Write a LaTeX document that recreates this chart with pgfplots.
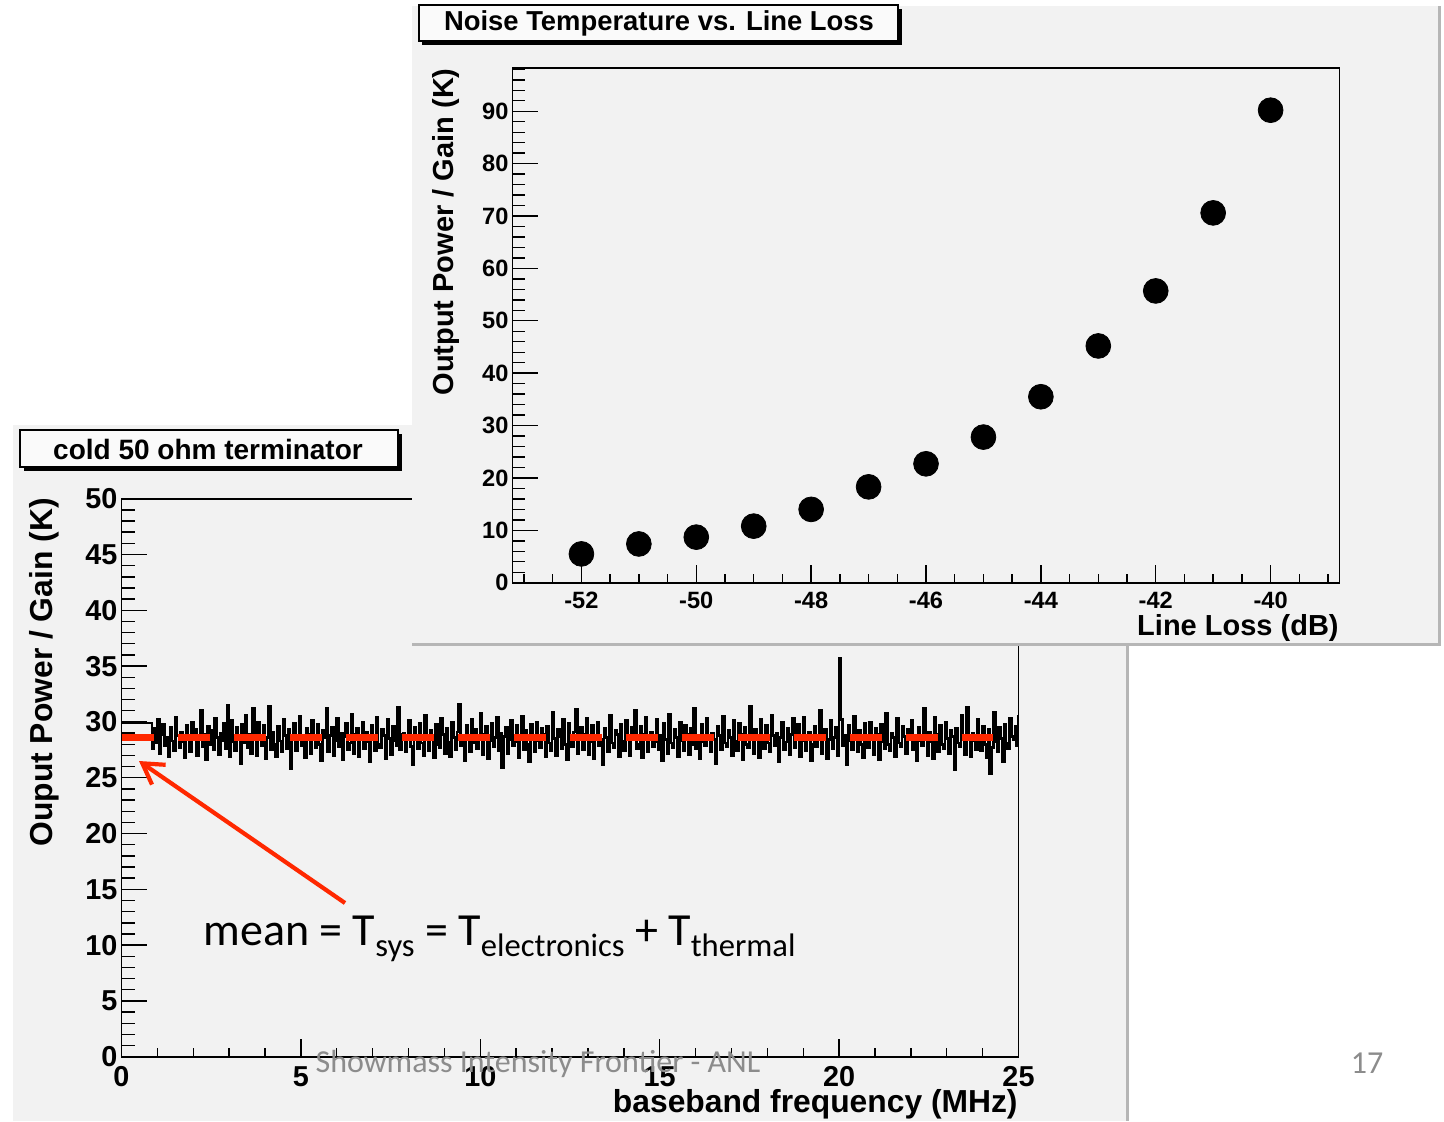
\documentclass[border=0pt]{standalone}
\usepackage{fontspec}
\setmainfont{Liberation Sans}
\newfontfamily\calibri{Carlito}
\usepackage{pgfplots}
\pgfplotsset{compat=1.18}
\usetikzlibrary{arrows.meta}

\definecolor{panelgray}{RGB}{242,242,242}
\definecolor{paneledge}{RGB}{182,182,182}
\definecolor{boxfill}{RGB}{250,250,250}
\definecolor{annotred}{RGB}{255,40,0}
\definecolor{footgray}{RGB}{140,140,140}

\newcommand\rootfont[1]{\fontsize{#1}{#1}\selectfont\bfseries}
\newcommand\sub[1]{\raisebox{-0.25em}{\fontsize{16.3}{19}\selectfont #1}}

\pgfplotsset{
  rootframe/.style={
    scale only axis, clip=true,
    axis background/.style={fill=panelgray},
    axis line style={black, line width=0.9pt},
    tick align=inside, tick pos=left,
    tick style={black, line width=0.7pt},
    /pgf/number format/assume math mode=true,
  }
}

\begin{document}
\begin{tikzpicture}[x=0.5pt, y=-0.5pt]
\useasboundingbox (0,0) rectangle (1444,1121);
\fill[white] (0,0) rectangle (1444,1121);

% ---------- lower canvas: spectrum of the cold terminator ----------
\fill[panelgray] (13,425) rectangle (1129,1121);
\fill[paneledge] (1126,425) rectangle (1129,1121);

\begin{axis}[rootframe,
  at={(60.75pt,-528.35pt)}, anchor=south west,
  width=448.5pt, height=279pt,
  xmin=0, xmax=25, ymin=0, ymax=50,
  xtick={0,5,...,25}, ytick={0,5,...,50},
  minor xtick={0,1,...,25}, minor ytick={0,1,...,50},
  xtick style={/pgfplots/major tick length=9pt, /pgfplots/minor tick length=4.2pt},
  ytick style={/pgfplots/major tick length=12.5pt, /pgfplots/minor tick length=6.5pt},
  tick label style={font=\rootfont{14.4}},
  xticklabel style={yshift=-1.5pt},
  yticklabel style={xshift=1.5pt},
]
% histogram trace, drawn bin by bin as steps
\addplot[const plot, black, line width=1.35pt, line join=miter] coordinates {
(0,29.9)(0.84,29.9)
(0.85,27.6)(0.90,29.4)(0.95,28.1)(1.00,30.2)(1.05,27.2)(1.10,28.9)(1.15,29.8)(1.20,27.9)(1.25,28.6)(1.30,26.9)(1.35,29.5)(1.40,28.3)(1.45,27.4)(1.50,30.4)(1.55,28.8)(1.60,27.7)(1.65,29.1)(1.70,28.2)(1.75,26.8)(1.80,29.7)
(1.85,28.5)(1.90,27.3)(1.95,30.0)(2.00,28.7)(2.05,29.3)(2.10,27.0)(2.15,28.4)(2.20,31.0)(2.25,27.8)(2.30,28.9)(2.35,26.6)(2.40,29.6)(2.45,28.0)(2.50,29.2)(2.55,27.5)(2.60,30.3)(2.65,28.6)(2.70,27.1)(2.75,29.0)(2.80,28.3)
(2.85,29.9)(2.90,27.6)(2.95,31.5)(3.00,26.9)(3.05,30.1)(3.10,28.2)(3.15,27.4)(3.20,29.5)(3.25,28.7)(3.30,26.3)(3.35,29.8)(3.40,28.1)(3.45,30.6)(3.50,27.7)(3.55,28.9)(3.60,27.2)(3.65,31.2)(3.70,28.5)(3.75,27.0)(3.80,30.0)
(3.85,28.4)(3.90,27.9)(3.95,29.7)(4.00,26.7)(4.05,28.6)(4.10,31.4)(4.15,27.5)(4.20,29.1)(4.25,28.0)(4.30,26.9)(4.35,29.6)(4.40,28.3)(4.45,27.3)(4.50,30.2)(4.55,28.8)(4.60,27.6)(4.65,29.3)(4.70,25.8)(4.75,28.7)(4.80,29.9)
(4.85,27.4)(4.90,28.5)(4.95,30.5)(5.00,27.9)(5.05,28.2)(5.10,26.8)(5.15,29.4)(5.20,28.9)(5.25,27.2)(5.30,30.1)(5.35,28.4)(5.40,27.7)(5.45,29.8)(5.50,28.0)(5.55,26.5)(5.60,29.2)(5.65,28.6)(5.70,31.2)(5.75,27.3)(5.80,28.8)
(5.85,29.5)(5.90,27.0)(5.95,28.3)(6.00,30.3)(6.05,27.8)(6.10,29.0)(6.15,26.6)(6.20,28.7)(6.25,29.9)(6.30,27.5)(6.35,28.1)(6.40,30.7)(6.45,27.2)(6.50,28.9)(6.55,29.4)(6.60,26.9)(6.65,28.4)(6.70,30.0)(6.75,27.6)(6.80,29.1)
(6.85,28.2)(6.90,26.4)(6.95,29.7)(7.00,28.6)(7.05,27.4)(7.10,30.4)(7.15,28.0)(7.20,27.7)(7.25,29.3)(7.30,28.8)(7.35,26.7)(7.40,30.2)(7.45,28.5)(7.50,27.1)(7.55,29.6)(7.60,28.3)(7.65,27.9)(7.70,31.3)(7.75,27.5)(7.80,28.9)
(7.85,29.0)(7.90,27.3)(7.95,28.6)(8.00,30.1)(8.05,27.8)(8.10,26.2)(8.15,29.5)(8.20,28.4)(8.25,27.6)(8.30,29.9)(8.35,28.1)(8.40,27.0)(8.45,30.6)(8.50,28.7)(8.55,27.4)(8.60,29.2)(8.65,28.5)(8.70,26.8)(8.75,29.8)(8.80,28.0)
(8.85,27.7)(8.90,30.3)(8.95,28.9)(9.00,27.2)(9.05,29.4)(9.10,28.2)(9.15,26.9)(9.20,30.0)(9.25,28.6)(9.30,27.5)(9.35,29.1)(9.40,31.6)(9.45,27.9)(9.50,28.4)(9.55,26.5)(9.60,29.7)(9.65,28.8)(9.70,27.3)(9.75,30.2)(9.80,28.1)
(9.85,29.3)(9.90,27.6)(9.95,28.5)(10.00,30.8)(10.05,27.1)(10.10,28.9)(10.15,29.6)(10.20,26.7)(10.25,28.3)(10.30,29.9)(10.35,27.8)(10.40,28.6)(10.45,30.4)(10.50,27.4)(10.55,29.0)(10.60,25.9)(10.65,28.7)(10.70,29.5)(10.75,27.2)(10.80,28.4)
(10.85,30.1)(10.90,27.9)(10.95,28.2)(11.00,29.7)(11.05,26.8)(11.10,28.8)(11.15,30.5)(11.20,27.5)(11.25,29.2)(11.30,28.0)(11.35,26.4)(11.40,29.8)(11.45,28.6)(11.50,27.3)(11.55,30.0)(11.60,28.3)(11.65,27.7)(11.70,29.4)(11.75,28.9)(11.80,26.9)
(11.85,29.6)(11.90,28.1)(11.95,27.4)(12.00,30.9)(12.05,28.5)(12.10,27.0)(12.15,29.3)(12.20,28.7)(12.25,27.6)(12.30,30.2)(12.35,28.0)(12.40,26.6)(12.45,29.9)(12.50,28.4)(12.55,27.8)(12.60,29.1)(12.65,31.1)(12.70,27.2)(12.75,28.6)(12.80,29.5)
(12.85,27.5)(12.90,28.9)(12.95,30.3)(13.00,27.1)(13.05,28.2)(13.10,29.7)(13.15,26.7)(13.20,28.8)(13.25,30.0)(13.30,27.9)(13.35,28.4)(13.40,26.2)(13.45,29.4)(13.50,28.6)(13.55,27.3)(13.60,30.6)(13.65,28.1)(13.70,27.7)(13.75,29.2)(13.80,28.9)
(13.85,26.9)(13.90,29.8)(13.95,28.3)(14.00,27.4)(14.05,30.1)(14.10,28.7)(14.15,27.0)(14.20,29.5)(14.25,28.5)(14.30,31.0)(14.35,27.6)(14.40,28.0)(14.45,29.6)(14.50,26.8)(14.55,28.9)(14.60,30.4)(14.65,27.3)(14.70,28.6)(14.75,29.1)(14.80,27.8)
(14.85,28.2)(14.90,30.2)(14.95,27.5)(15.00,28.8)(15.05,26.5)(15.10,29.9)(15.15,28.4)(15.20,27.2)(15.25,30.7)(15.30,28.1)(15.35,27.7)(15.40,29.3)(15.45,28.6)(15.50,26.9)(15.55,30.0)(15.60,28.3)(15.65,27.4)(15.70,29.7)(15.75,28.9)(15.80,27.1)
(15.85,29.4)(15.90,28.0)(15.95,31.2)(16.00,27.6)(16.05,28.5)(16.10,26.7)(16.15,29.8)(16.20,28.2)(16.25,27.9)(16.30,30.3)(16.35,28.7)(16.40,27.3)(16.45,29.0)(16.50,28.4)(16.55,26.3)(16.60,29.6)(16.65,28.8)(16.70,27.5)(16.75,30.5)(16.80,28.1)
(16.85,27.8)(16.90,29.2)(16.95,28.6)(17.00,27.0)(17.05,30.1)(17.10,28.3)(17.15,27.4)(17.20,29.9)(17.25,28.9)(17.30,26.6)(17.35,29.5)(17.40,28.0)(17.45,27.7)(17.50,31.4)(17.55,28.5)(17.60,27.2)(17.65,29.3)(17.70,28.7)(17.75,26.8)(17.80,30.2)
(17.85,28.4)(17.90,27.6)(17.95,29.7)(18.00,28.1)(18.05,27.3)(18.10,30.6)(18.15,28.8)(18.20,27.9)(18.25,29.0)(18.30,26.4)(18.35,28.6)(18.40,30.0)(18.45,27.5)(18.50,28.2)(18.55,29.4)(18.60,27.1)(18.65,28.9)(18.70,30.3)(18.75,27.7)(18.80,28.5)
(18.85,29.8)(18.90,26.9)(18.95,28.3)(19.00,30.4)(19.05,27.4)(19.10,28.7)(19.15,29.1)(19.20,26.5)(19.25,28.0)(19.30,29.6)(19.35,27.8)(19.40,28.5)(19.45,31.0)(19.50,27.2)(19.55,28.9)(19.60,29.3)(19.65,26.7)(19.70,28.4)(19.75,30.1)(19.80,27.6)
(19.85,28.6)(19.90,29.5)(19.95,27.0)(20.00,35.7)(20.05,30.2)(20.10,27.9)(20.15,28.8)(20.20,26.2)(20.25,29.7)(20.30,28.3)(20.35,27.5)(20.40,30.5)(20.45,28.7)(20.50,27.3)(20.55,29.2)(20.60,28.0)(20.65,26.8)(20.70,29.9)(20.75,28.4)(20.80,27.7)
(20.85,30.0)(20.90,28.5)(20.95,27.1)(21.00,29.4)(21.05,28.9)(21.10,26.6)(21.15,29.8)(21.20,28.2)(21.25,27.6)(21.30,30.8)(21.35,28.0)(21.40,27.4)(21.45,29.0)(21.50,28.6)(21.55,26.9)(21.60,30.3)(21.65,28.1)(21.70,27.8)(21.75,29.6)(21.80,28.7)
(21.85,27.2)(21.90,29.3)(21.95,28.4)(22.00,30.1)(22.05,27.5)(22.10,28.8)(22.15,26.5)(22.20,29.5)(22.25,28.3)(22.30,27.9)(22.35,31.2)(22.40,28.6)(22.45,27.0)(22.50,29.1)(22.55,28.2)(22.60,26.7)(22.65,30.4)(22.70,28.9)(22.75,27.3)(22.80,29.7)
(22.85,28.0)(22.90,27.6)(22.95,30.0)(23.00,28.5)(23.05,27.2)(23.10,29.2)(23.15,28.7)(23.20,25.7)(23.25,29.4)(23.30,28.1)(23.35,27.8)(23.40,30.6)(23.45,28.4)(23.50,27.1)(23.55,31.3)(23.60,28.8)(23.65,26.9)(23.70,29.0)(23.75,28.3)(23.80,27.5)
(23.85,30.2)(23.90,28.6)(23.95,27.4)(24.00,29.6)(24.05,28.0)(24.10,26.8)(24.15,29.3)(24.20,25.4)(24.25,27.7)(24.30,30.9)(24.35,28.2)(24.40,27.3)(24.45,29.5)(24.50,28.5)(24.55,26.4)(24.60,29.8)(24.65,28.1)(24.70,27.6)(24.75,30.3)(24.80,28.7)
(24.85,28.4)(24.90,29.6)(24.95,27.9)(25.00,30.6)
};
% mean level
\addplot[annotred, line width=3.5pt, dash pattern=on 16pt off 12pt] coordinates {(0,28.6) (24.3,28.6)};
\end{axis}

% lower title box with drop shadow
\fill[black] (24,434) rectangle (402,471);
\filldraw[fill=boxfill, draw=black, line width=0.7pt] (20,430) rectangle (398,467);
\node[font=\rootfont{14}] at (208,449) {cold 50 ohm terminator};

% lower axis titles
\node[font=\rootfont{15.9}, rotate=90, anchor=east, inner sep=0] at (44,498) {Ouput Power / Gain (K)};
\node[font=\rootfont{15.9}, anchor=east, inner sep=0] at (1018,1104) {baseband frequency (MHz)};

% annotation
\draw[annotred, line width=2.1pt, -{Straight Barb[length=10pt, width=12pt]}] (345,903) -- (139,761);
\node[anchor=base west, inner sep=0, font=\calibri\fontsize{23}{28}\selectfont] at (203,945)
  {mean = T\sub{sys} = T\sub{electronics} + T\sub{thermal}};

% slide footer
\node[font=\calibri\fontsize{16}{19}\selectfont, text=footgray] at (538,1064) {Showmass Intensity Frontier - ANL};
\node[font=\calibri\fontsize{16}{19}\selectfont, text=footgray] at (1367,1063) {17};

% ---------- upper canvas: noise temperature vs. line loss ----------
\fill[panelgray] (412,6) rectangle (1441,646);
\fill[paneledge] (412,643) rectangle (1441,646);
\fill[paneledge] (1438,6) rectangle (1441,646);

\begin{axis}[rootframe,
  at={(256.25pt,-291.35pt)}, anchor=south west,
  width=413.5pt, height=257.2pt,
  xmin=-53.2, xmax=-38.8, ymin=0, ymax=98.2,
  xtick={-52,-50,...,-40}, ytick={0,10,...,90},
  minor xtick={-53,-52.5,...,-39}, minor ytick={0,2,...,98},
  xtick style={/pgfplots/major tick length=9pt, /pgfplots/minor tick length=4.2pt},
  ytick style={/pgfplots/major tick length=12.5pt, /pgfplots/minor tick length=6.2pt},
  tick label style={font=\rootfont{11.8}},
  xticklabel style={yshift=-1pt},
  yticklabel style={xshift=1.5pt},
]
\addplot[only marks, mark=*, mark size=6.2pt, mark options={fill=black, draw=black}] coordinates {
(-52,5.5) (-51,7.4) (-50,8.7) (-49,10.8) (-48,14.0) (-47,18.3) (-46,22.7)
(-45,27.8) (-44,35.5) (-43,45.2) (-42,55.7) (-41,70.6) (-40,90.2)
};
\end{axis}

% upper title box with drop shadow
\fill[black] (422,9) rectangle (902,45);
\filldraw[fill=boxfill, draw=black, line width=0.7pt] (419,5) rectangle (898,41);
\node[font=\rootfont{13.7}] at (659,23) {Noise Temperature vs. Line Loss};

% upper axis titles
\node[font=\rootfont{14.5}, rotate=90, anchor=east, inner sep=0] at (446,68) {Output Power / Gain (K)};
\node[font=\rootfont{14.5}, anchor=east, inner sep=0] at (1339,628) {Line Loss (dB)};
\end{tikzpicture}
\end{document}
